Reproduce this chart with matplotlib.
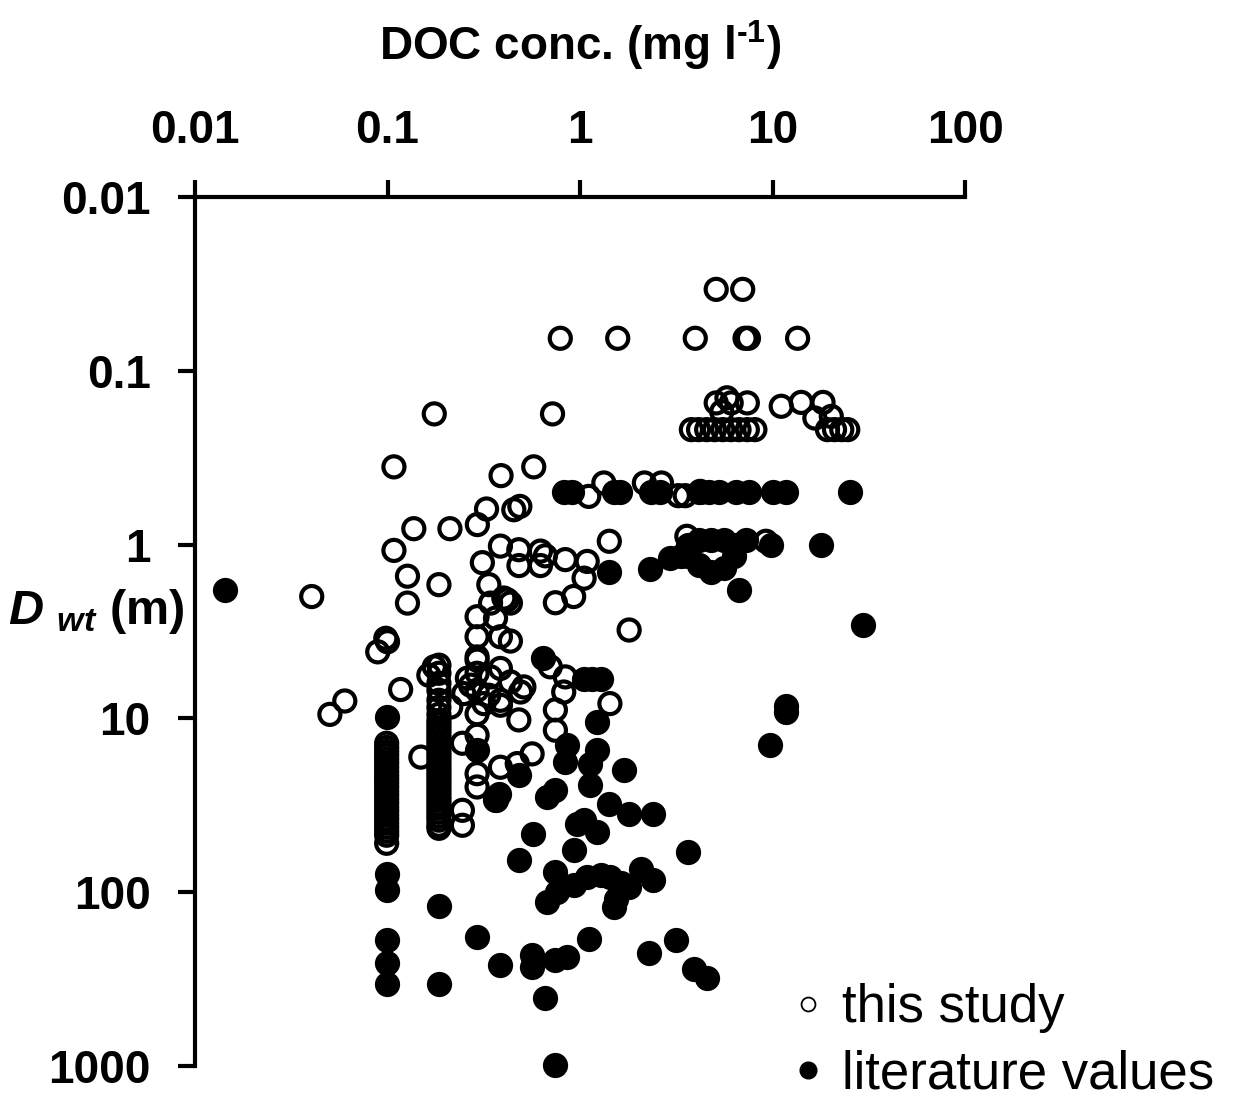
import matplotlib
matplotlib.use("Agg")
import matplotlib.pyplot as plt
from matplotlib.lines import Line2D
from matplotlib.ticker import FixedLocator, FixedFormatter, NullLocator

plt.rcParams["font.family"] = ["Liberation Sans", "DejaVu Sans"]
plt.rcParams["mathtext.fontset"] = "custom"
plt.rcParams["mathtext.rm"] = "Liberation Sans:bold"
plt.rcParams["mathtext.it"] = "Liberation Sans:italic:bold"
plt.rcParams["mathtext.bf"] = "Liberation Sans:bold"

# DOC (mg/l) and water-table depth D_wt (m)
# "this study" (open circles)
study_doc = [
    5.1, 7.0,
    0.79, 1.57, 3.97, 7.2, 7.5, 13.5,
    5.1, 6.1, 7.4, 5.45, 5.8, 11.1, 14.1, 18.3, 16.6, 20.2,
    19.3, 21.0, 22.9, 24.6, 3.79, 4.13, 4.55, 5.0, 5.52, 6.08, 6.7, 7.4, 8.1,
    0.72, 0.175, 0.108, 0.389, 0.575, 0.327, 0.453, 0.487, 0.137, 0.211, 0.293,
    0.108, 0.386, 0.481, 0.623, 0.661, 0.839, 0.311, 0.482, 0.623, 0.127, 0.185,
    0.0404, 0.127, 0.336, 0.402, 0.435, 0.419, 0.343, 0.745, 0.927, 0.292, 0.364,
    0.098, 0.089, 0.1, 0.292, 0.386, 0.435, 0.292, 1.80, 1.09, 1.42, 1.05,
    1.33, 1.11, 2.16, 2.65, 3.24, 3.52, 4.21, 4.28, 3.59, 9.25,
    0.0502, 0.06, 0.117, 0.149,
    # column near 0.1 mg/l
    0.099, 0.099, 0.099, 0.099, 0.099, 0.099, 0.099, 0.099, 0.099, 0.099,
    0.099, 0.099, 0.099, 0.099, 0.099, 0.099, 0.099, 0.099, 0.099, 0.099,
    0.099, 0.099, 0.099, 0.099, 0.099,
    # column near 0.19 mg/l
    0.185, 0.185, 0.185, 0.185, 0.185, 0.185, 0.185,
    0.185, 0.185, 0.185, 0.185, 0.185, 0.185, 0.185, 0.185, 0.185, 0.185,
    0.185, 0.185, 0.185, 0.185, 0.185, 0.185, 0.185, 0.185, 0.185, 0.185,
    0.185, 0.185, 0.185, 0.185, 0.185, 0.185, 0.185, 0.185,
    0.175, 0.164, 0.213, 0.245, 0.245, 0.245,
    0.292, 0.292, 0.26, 0.343, 0.386, 0.435, 0.511, 0.491, 0.249, 0.292, 0.336,
    0.386, 0.386, 0.292, 0.317, 0.27, 0.481, 0.292, 0.292, 0.292, 0.386, 0.472,
    0.564, 0.364, 0.745, 0.745, 0.701, 0.823, 0.839, 1.43,
]
study_dwt = [
    0.034, 0.034,
    0.065, 0.065, 0.065, 0.065, 0.065, 0.065,
    0.153, 0.153, 0.153, 0.172, 0.143, 0.16, 0.152, 0.152, 0.187, 0.183,
    0.218, 0.218, 0.218, 0.218, 0.218, 0.218, 0.218, 0.218, 0.218, 0.218, 0.218, 0.218, 0.218,
    0.177, 0.177, 0.357, 0.401, 0.357, 0.624, 0.63, 0.603, 0.81, 0.81, 0.767,
    1.08, 1.02, 1.07, 1.09, 1.16, 1.22, 1.27, 1.32, 1.32, 1.52, 1.70,
    1.99, 2.17, 1.70, 2.03, 2.17, 2.08, 2.17, 2.16, 1.99, 2.6, 2.65,
    3.46, 4.14, 3.62, 3.39, 3.39, 3.59, 4.43, 3.1, 1.25, 0.957, 1.56,
    0.442, 0.528, 0.442, 0.442, 0.523, 0.523, 0.494, 0.5, 0.896, 0.957,
    9.48, 7.94, 6.82, 16.7,
    13.9, 14.7, 15.5, 16.3, 17.2, 18.1, 19.1, 20.2, 21.3, 22.4,
    23.6, 24.9, 26.3, 27.7, 29.2, 30.8, 32.5, 34.2, 36.1, 38.0,
    40.1, 42.3, 44.6, 47.0, 52.3,
    4.94, 5.5, 6.28, 6.89, 7.87, 8.64, 9.48,
    10.3, 10.8, 11.4, 12.0, 12.7, 13.4, 14.1, 14.9, 15.7, 16.5,
    17.4, 18.4, 19.4, 20.4, 21.5, 22.7, 23.9, 25.2, 26.6, 28.1,
    29.6, 31.2, 32.9, 34.7, 36.6, 38.5, 41.2, 42.9,
    5.05, 5.64, 8.6, 33.8, 41.2, 13.9,
    4.62, 5.5, 5.87, 5.77, 5.16, 6.17, 6.59, 7.05, 7.2, 6.89, 7.36,
    7.87, 8.4, 9.4, 8.22, 6.44, 10.2, 12.5, 20.8, 24.8, 19.1, 18.2,
    16.0, 29.6, 8.93, 11.7, 5.05, 7.05, 5.77, 8.22,
]

# "literature values" (filled circles)
lit_doc = [
    0.0144,
    0.826, 0.91, 1.51, 1.62, 2.33, 2.6, 4.13, 4.66, 5.26, 6.46, 7.57, 10, 11.8, 25.2,
    1.42, 2.31, 2.94, 3.36, 3.66, 4.13, 4.77, 5.59, 6.46, 4.13, 4.77, 5.59, 6.31,
    3.66, 7.27, 9.84, 17.9, 6.7, 29.5,
    0.646, 1.05, 1.16, 1.28, 0.099, 1.23, 0.857, 0.839, 1.23, 1.13, 1.70, 0.292,
    0.481, 1.13, 0.745, 0.675, 0.379, 0.364, 1.42, 1.80, 2.39, 0.964, 1.05, 1.23,
    0.57, 0.93, 3.63, 0.481, 0.745, 0.099, 0.099, 2.08, 2.39, 0.927, 1.09, 1.28,
    1.43, 1.63, 1.80, 0.76, 0.675, 1.5, 1.54, 0.185, 0.099, 0.099, 0.099, 0.29,
    1.12, 3.15, 0.384, 0.564, 0.564, 0.745, 0.857, 2.28, 3.93, 4.57, 0.185, 0.656,
    0.745, 11.7, 11.7, 9.65,
]
lit_dwt = [
    1.82,
    0.5, 0.5, 0.5, 0.5, 0.5, 0.5, 0.5, 0.5, 0.5, 0.5, 0.5, 0.5, 0.5, 0.5,
    1.43, 1.38, 1.19, 1.17, 1.0, 0.936, 0.936, 0.936, 1.0, 1.31, 1.43, 1.36, 1.17,
    1.16, 0.936, 1.0, 1.0, 1.82, 2.9,
    4.52, 5.9, 5.9, 5.9, 9.86, 10.5, 14.3, 17.8, 15.3, 18.2, 19.9, 15.3,
    21.3, 24.3, 25.9, 28.3, 27.1, 29.6, 30.9, 35.3, 35.3, 40.3, 38.5, 45.0,
    46.0, 57.4, 58.7, 64.9, 76.4, 78.1, 97.5, 73.1, 85.3, 91.2, 81.7, 79.8,
    81.7, 89.1, 93.3, 99.6, 114, 121, 109, 120, 189, 257, 338, 182,
    185, 189, 263, 230, 269, 245, 235, 225, 275, 313, 338, 408,
    986, 8.52, 9.23, 14.3,
]

x_ticks = [0.01, 0.1, 1, 10, 100]
x_labels = ["0.01", "0.1", "1", "10", "100"]
y_ticks = [0.01, 0.1, 1, 10, 100, 1000]
y_labels = ["0.01", "0.1", "1", "10", "100", "1000"]

fig = plt.figure(figsize=(12.34, 11.11), dpi=100)
ax = fig.add_axes([195 / 1234, 1 - 1066 / 1111, (965 - 195) / 1234, (1066 - 197) / 1111])

ax.scatter(lit_doc, lit_dwt, s=330, c="black", linewidths=0, zorder=3, clip_on=False)
ax.scatter(study_doc, study_dwt, s=230, facecolors="none", edgecolors="black",
           linewidths=3.0, zorder=4, clip_on=False)

ax.set_xscale("log")
ax.set_yscale("log")
ax.set_xlim(0.01, 100)
ax.set_ylim(1000, 0.01)

ax.xaxis.tick_top()
ax.xaxis.set_major_locator(FixedLocator(x_ticks))
ax.xaxis.set_major_formatter(FixedFormatter(x_labels))
ax.yaxis.set_major_locator(FixedLocator(y_ticks))
ax.yaxis.set_major_formatter(FixedFormatter(y_labels))
ax.xaxis.set_minor_locator(NullLocator())
ax.yaxis.set_minor_locator(NullLocator())
ax.tick_params(axis="both", direction="out", length=12, width=3, pad=20,
               labelsize=33)
for lab in ax.get_xticklabels() + ax.get_yticklabels():
    lab.set_fontweight("bold")

for side in ["right", "bottom"]:
    ax.spines[side].set_visible(False)
for side in ["left", "top"]:
    ax.spines[side].set_linewidth(3)

fig.text(580 / 1234, 1 - 45 / 1111, r"DOC conc. (mg l$^{\text{-}1}$)",
         ha="center", va="center", fontsize=33, fontweight="bold")
fig.text(8 / 1234, 1 - 612 / 1111, r"$D_{\;\,wt}$ (m)",
         ha="left", va="center", fontsize=35, fontweight="bold")

handles = [
    Line2D([], [], linestyle="none", marker="o", markersize=10,
           markerfacecolor="none", markeredgecolor="black", markeredgewidth=1.3),
    Line2D([], [], linestyle="none", marker="o", markersize=12,
           markerfacecolor="black", markeredgecolor="black"),
]
ax.legend(handles, ["this study", "literature values"], loc="upper left",
          bbox_to_anchor=(795 / 1234, 1 - 983 / 1111), bbox_transform=fig.transFigure,
          frameon=False, fontsize=38, handlelength=0.5, handletextpad=0.4,
          labelspacing=0.32, borderpad=0, borderaxespad=0)

fig.savefig("out.png", dpi=100)
